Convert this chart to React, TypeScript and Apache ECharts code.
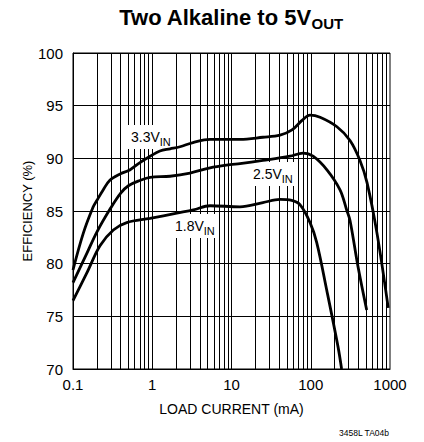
import React, { useEffect, useRef } from "react";
import * as echarts from "echarts";

// Load current (mA) and efficiency (%)
const load33 = [0.1, 0.135, 0.18, 0.2, 0.24, 0.29, 0.39, 0.52, 0.7, 0.94, 1.25, 1.68, 2.24, 3.27, 5.36, 7.16, 12.8, 24.9, 40.9, 58, 77.6, 98, 131, 214, 313, 418, 513, 685, 950];
const eff33 = [79.4, 82.9, 85.4, 86.0, 87.0, 87.9, 88.5, 88.9, 89.6, 90.2, 90.7, 90.9, 91.1, 91.5, 91.8, 91.8, 91.8, 92.0, 92.2, 92.7, 93.6, 94.1, 93.9, 93.0, 91.7, 89.8, 87.7, 82.9, 75.8];

const load25 = [0.1, 0.15, 0.2, 0.3, 0.4, 0.5, 0.7, 0.94, 1.68, 3.0, 5.36, 9.57, 12.8, 24.9, 54.7, 79.8, 107, 160, 234, 284, 313, 395, 508];
const eff25 = [78.2, 81.0, 83.0, 85.3, 86.7, 87.4, 87.9, 88.2, 88.3, 88.6, 89.1, 89.4, 89.5, 89.8, 90.2, 90.5, 90.2, 88.9, 87.0, 85.1, 84.1, 79.7, 75.6];

const load18 = [0.1, 0.149, 0.219, 0.323, 0.476, 0.937, 2.04, 3.3, 5.36, 12.8, 24.9, 40.9, 57.5, 73.1, 98, 119, 159, 221, 245];
const eff18 = [76.5, 79.1, 81.7, 83.2, 83.9, 84.3, 84.8, 85.1, 85.5, 85.4, 85.8, 86.1, 86.0, 85.6, 83.9, 82.0, 77.5, 72.1, 70.0];

const gridLinesX = [
  0.2, 0.3, 0.4, 0.5, 0.6, 0.7, 0.8, 0.9, 1,
  2, 3, 4, 5, 6, 7, 8, 9, 10,
  20, 30, 40, 50, 60, 70, 80, 90, 100,
  200, 300, 400, 500, 600, 700, 800, 900,
];

const seriesLabels = ["3.3V", "2.5V", "1.8V"];
const titleMain = "Two Alkaline to 5V";
const titleSub = "OUT";
const xName = "LOAD CURRENT (mA)";
const yName = "EFFICIENCY (%)";
const footnote = "3458L TA04b";

const FONT = "'Liberation Sans', Arial, sans-serif";

function pairs(xs: number[], ys: number[]) {
  return xs.map((x, i) => [x, ys[i]]);
}

function curveLabel(text: string, x: number, y: number) {
  return {
    type: "text",
    x,
    y,
    z: 3,
    style: {
      text: `{m|${text}}{s|IN}`,
      backgroundColor: "#fff",
      padding: [2, 3, 2, 3],
      rich: {
        m: { fontSize: 14, lineHeight: 20, fill: "#000", fontFamily: FONT },
        s: { fontSize: 11, lineHeight: 12, verticalAlign: "bottom", fill: "#000", fontFamily: FONT },
      },
    },
  };
}

export default function App() {
  const ref = useRef<HTMLDivElement>(null);

  useEffect(() => {
    if (!ref.current) return;
    const chart = echarts.init(ref.current, undefined, { renderer: "svg" });
    const lineStyle = { color: "#000", width: 2.8 };
    const mkSeries = (name: string, data: number[][]) => ({
      name,
      type: "line",
      data,
      smooth: 0.35,
      showSymbol: false,
      symbol: "none",
      lineStyle,
      z: 5,
      clip: true,
    });
    chart.setOption({
      animation: false,
      textStyle: { fontFamily: FONT },
      grid: {
        left: 73,
        right: 34,
        top: 53,
        bottom: 73,
        show: true,
        borderColor: "#000",
        borderWidth: 1,
        backgroundColor: "transparent",
      },
      xAxis: {
        type: "log",
        logBase: 10,
        min: 0.1,
        max: 1000,
        name: xName,
        nameLocation: "middle",
        nameGap: 33,
        nameMoveOverlap: false,
        nameTextStyle: { color: "#000", fontSize: 14, fontFamily: FONT },
        axisLine: { show: true, lineStyle: { color: "#000", width: 1 } },
        axisTick: { show: false },
        axisLabel: {
          color: "#000",
          fontSize: 15,
          margin: 8,
          fontFamily: FONT,
          formatter: (v: number) => `${+v.toPrecision(6)}`,
        },
        splitLine: { show: false },
      },
      yAxis: {
        type: "value",
        min: 70,
        max: 100,
        interval: 5,
        name: yName,
        nameLocation: "middle",
        nameGap: 39,
        nameMoveOverlap: false,
        nameTextStyle: { color: "#000", fontSize: 13, fontFamily: FONT },
        axisLine: { show: true, lineStyle: { color: "#000", width: 1 } },
        axisTick: { show: false },
        axisLabel: { color: "#000", fontSize: 15, margin: 10, fontFamily: FONT },
        splitLine: { show: true, lineStyle: { color: "#000", width: 1 } },
      },
      series: [
        {
          name: "grid",
          type: "line",
          data: [],
          silent: true,
          z: 1,
          markLine: {
            z: 1,
            silent: true,
            symbol: ["none", "none"],
            label: { show: false },
            lineStyle: { color: "#000", width: 1, type: "solid" },
            emphasis: { disabled: true },
            data: gridLinesX.map((v) => ({ xAxis: v })),
          },
        },
        mkSeries(seriesLabels[0], pairs(load33, eff33)),
        mkSeries(seriesLabels[1], pairs(load25, eff25)),
        mkSeries(seriesLabels[2], pairs(load18, eff18)),
      ],
      graphic: [
        {
          type: "text",
          x: 231,
          y: 3,
          z: 100,
          style: {
            text: `{m|${titleMain}}{s|${titleSub}}`,
            align: "center",
            rich: {
              m: { fontSize: 22, fontWeight: "bold", lineHeight: 28, fill: "#000", fontFamily: FONT },
              s: { fontSize: 15, fontWeight: "bold", lineHeight: 14, verticalAlign: "bottom", fill: "#000", fontFamily: FONT },
            },
          },
        },
        curveLabel(seriesLabels[0], 128, 125),
        curveLabel(seriesLabels[1], 250, 162),
        curveLabel(seriesLabels[2], 172, 214),
        {
          type: "text",
          x: 389,
          y: 433,
          z: 100,
          style: {
            text: footnote,
            align: "right",
            verticalAlign: "middle",
            fontSize: 8.5,
            fill: "#000",
            fontFamily: FONT,
          },
        },
      ],
    });
    return () => chart.dispose();
  }, []);

  return (
    <div
      ref={ref}
      style={{ position: "fixed", left: 0, top: 0, width: 424, height: 442, background: "#fff" }}
    />
  );
}
